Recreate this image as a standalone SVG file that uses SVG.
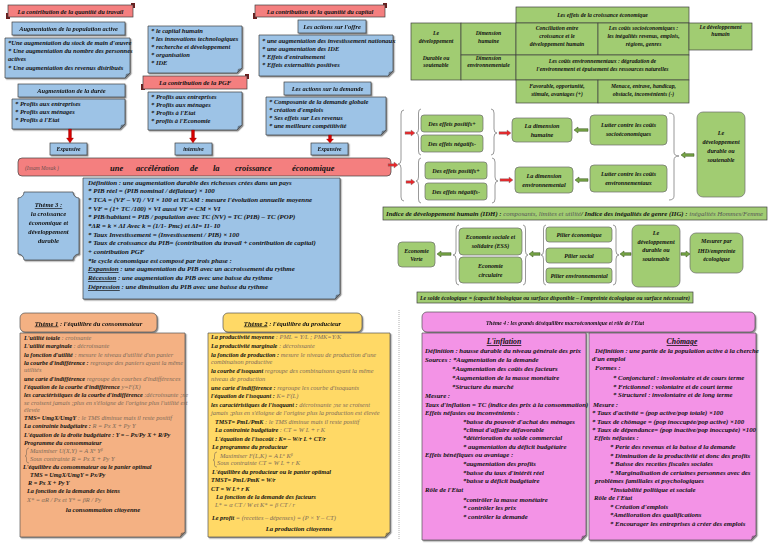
<svg xmlns="http://www.w3.org/2000/svg" width="768" height="543" viewBox="0 0 768 543">
<defs>
<filter id="sh" x="-10%" y="-10%" width="130%" height="140%"><feDropShadow dx="1.2" dy="1.2" stdDeviation="0.5" flood-color="#333" flood-opacity="0.55"/></filter>
</defs>
<style>
text{font-family:"Liberation Serif","DejaVu Serif",serif;font-style:italic;font-weight:bold;fill:#111;}
.c{text-anchor:middle}
.r{font-weight:normal;fill:#7d6a58}
#theme1 .r,#theme2 .r{font-size:6.4px}
.u{text-decoration:underline}
.blue{fill:#9dc3e6;stroke:#404040;stroke-width:0.7}
.red{fill:#f47f7f;stroke:#404040;stroke-width:0.7}
.grn{fill:#a1cc72;stroke:#404040;stroke-width:0.7}
.gb{fill:#a1cc72;stroke:#6a6a6a;stroke-width:0.7}
.org{fill:#f4b183;stroke:#555;stroke-width:0.7}
.yel{fill:#ffd966;stroke:#555;stroke-width:0.7}
.pnk{fill:#f393e6;stroke:#555;stroke-width:0.7}
.fold{fill:#333;opacity:0.5}
.ra{fill:#d40000;stroke:#7a0000;stroke-width:0.3}
.rr{fill:#e8262a;stroke:#7a7a7a;stroke-width:0.4}
.ga{fill:#76a445;stroke:#34501a;stroke-width:0.5}
.br{fill:none;stroke:#7f7f7f;stroke-width:0.8}
.curl{fill:#6a1f1f}
</style>

<!-- ===== Top left: quantité du travail ===== -->
<g id="banner-travail">
<rect class="curl" x="6" y="13" width="4" height="6"/><rect class="curl" x="131" y="3" width="4" height="5"/>
<rect class="red" x="8" y="5" width="125" height="12"/>
<text x="70.5" y="13.8" class="c" font-size="6.4">La contribution de la quantité du travail</text>
</g>
<g id="pop-active" filter="url(#sh)">
<rect class="blue" x="12" y="22" width="113" height="13"/>
<text x="68.5" y="31" class="c" font-size="6.4">Augmentation de la population active</text>
</g>
<g id="box-travail1">
<path class="blue" filter="url(#sh)" d="M5 38h125v35l-5 5h-120z"/><path class="fold" d="M125 78l1-4 4-1z"/>
<text font-size="6.5"><tspan x="8" y="45">*Une augmentation du stock de main d'œuvre</tspan><tspan x="8" y="53">* Une augmentation du nombre des personnes</tspan><tspan x="8" y="61">actives</tspan><tspan x="8" y="70">* Une augmentation des revenus distribués</tspan></text>
</g>
<g id="duree" filter="url(#sh)">
<rect class="blue" x="18" y="84" width="107" height="13"/>
<text x="71.5" y="93" class="c" font-size="6.4">Augmentation de la durée</text>
</g>
<g id="box-travail2">
<path class="blue" filter="url(#sh)" d="M12 99h113v25l-5 5h-108z"/><path class="fold" d="M120 129l1-4 4-1z"/>
<text font-size="6.5"><tspan x="15" y="106">* Profits aux entreprises</tspan><tspan x="15" y="114">* Profits aux ménages</tspan><tspan x="15" y="122">* Profits à l'Etat</tspan></text>
</g>
<g id="expansive1" filter="url(#sh)">
<rect class="blue" x="50" y="143" width="37" height="12"/>
<text x="68.5" y="151.3" class="c" font-size="5.6">Expansive</text>
</g>

<!-- ===== Top middle: PGF ===== -->
<g id="box-pgf1">
<path class="blue" filter="url(#sh)" d="M148 26h94v42l-5 5h-89z"/><path class="fold" d="M237 73l1-4 4-1z"/>
<text font-size="6.5"><tspan x="151" y="33">* le capital humain</tspan><tspan x="151" y="41">* les innovations technologiques</tspan><tspan x="151" y="49">* recherche et développement</tspan><tspan x="151" y="57">* organisation</tspan><tspan x="151" y="65">* IDE</tspan></text>
</g>
<g id="banner-pgf">
<rect class="curl" x="141" y="84" width="4" height="6"/><rect class="curl" x="245" y="74" width="4" height="5"/>
<rect class="red" x="143" y="76" width="104" height="13"/>
<text x="195" y="85.3" class="c" font-size="6.6">La contribution de la PGF</text>
</g>
<g id="box-pgf2">
<path class="blue" filter="url(#sh)" d="M148 92h94v33l-5 5h-89z"/><path class="fold" d="M237 130l1-4 4-1z"/>
<text font-size="6.5"><tspan x="151" y="99">* Profits aux entreprises</tspan><tspan x="151" y="107">* Profits aux ménages</tspan><tspan x="151" y="115">* Profits à l'Etat</tspan><tspan x="151" y="123">* profits à l'Economie</tspan></text>
</g>
<g id="intensive" filter="url(#sh)">
<rect class="blue" x="175" y="143" width="37" height="12"/>
<text x="193.5" y="151.3" class="c" font-size="5.6">intensive</text>
</g>

<!-- ===== Top right: quantité du capital ===== -->
<g id="banner-capital">
<rect class="curl" x="253" y="13" width="4" height="6"/><rect class="curl" x="383" y="3" width="4" height="5"/>
<rect class="red" x="255" y="5" width="130" height="12"/>
<text x="320" y="13.8" class="c" font-size="6.4">La contribution de la quantité du capital</text>
</g>
<g id="offre" filter="url(#sh)">
<rect class="blue" x="298" y="20" width="68" height="13"/>
<text x="332" y="29" class="c" font-size="6.4">Les actions sur l'offre</text>
</g>
<g id="box-capital1">
<path class="blue" filter="url(#sh)" d="M259 35h134v36l-5 5h-129z"/><path class="fold" d="M388 76l1-4 4-1z"/>
<text font-size="6.5"><tspan x="262" y="43">* une augmentation des investissement nationaux</tspan><tspan x="262" y="51">* une augmentation des IDE</tspan><tspan x="262" y="59">* Effets d'entraînement</tspan><tspan x="262" y="67">* Effets externalités positives</tspan></text>
</g>
<g id="demande" filter="url(#sh)">
<rect class="blue" x="284" y="82" width="87" height="13"/>
<text x="327.5" y="91" class="c" font-size="6.4">Les actions sur la demande</text>
</g>
<g id="box-capital2">
<path class="blue" filter="url(#sh)" d="M266 97h120v33l-5 5h-115z"/><path class="fold" d="M381 135l1-4 4-1z"/>
<text font-size="6.5"><tspan x="269" y="104">* Composante de la demande globale</tspan><tspan x="269" y="112">* création d'emplois</tspan><tspan x="269" y="120">* Ses effets sur Les revenus</tspan><tspan x="269" y="128">* une meilleure compétitivité</tspan></text>
</g>
<g id="expansive2" filter="url(#sh)">
<rect class="blue" x="311" y="143" width="37" height="12"/>
<text x="329.5" y="151.3" class="c" font-size="5.6">Expansive</text>
</g>

<!-- ===== Big banner ===== -->
<g id="banner-acceleration">
<rect class="red" x="18" y="158" width="373" height="18" rx="4"/>
<text x="25" y="170" font-size="5.5" class="r" style="fill:#6d5050">(Issam Mosak )</text>
<text y="170.5" font-size="8.5"><tspan x="110">une</tspan><tspan x="136">accélération</tspan><tspan x="190">de</tspan><tspan x="213">la</tspan><tspan x="235">croissance</tspan><tspan x="292">économique</tspan></text>
</g>

<!-- ===== Theme 3 ===== -->
<g id="theme3" filter="url(#sh)">
<path class="blue" d="M24 192H73A6 6 0 0 0 79 198V254A6 6 0 0 0 73 260H24A6 6 0 0 0 18 254V198A6 6 0 0 0 24 192Z"/>
<text class="c" font-size="6.6"><tspan x="48.5" y="207" class="u">Thème 3 :</tspan><tspan x="48.5" y="216">la croissance</tspan><tspan x="48.5" y="225">économique et</tspan><tspan x="48.5" y="234">développement</tspan><tspan x="48.5" y="243">durable</tspan></text>
</g>
<g id="definition">
<path class="blue" filter="url(#sh)" d="M83 178h257v116l-5 5h-252z"/><path class="fold" d="M335 299l1-4 4-1z"/>
<text font-size="6.9">
<tspan x="88" y="184.5">Définition : une augmentation durable des richesses crées dans un pays</tspan>
<tspan x="88" y="193">* PIB réel = (PIB nominal / déflateur) × 100</tspan>
<tspan x="88" y="202">* TCA = (VF – VI) / VI × 100 et TCAM : mesure l'évolution annuelle moyenne</tspan>
<tspan x="88" y="210.5">* VF = (1+ TC /100) × VI        aussi VF = CM × VI</tspan>
<tspan x="88" y="219">* PIB/habitant = PIB / population avec TC (NV) = TC (PIB) – TC (POP)</tspan>
<tspan x="88" y="228">*ΔR = k × ΔI    Avec k = (1/1- Pmc) et    ΔI= I1- I0</tspan>
<tspan x="88" y="236.5">* Taux Investissement = (Investissement / PIB) × 100</tspan>
<tspan x="88" y="245">* Taux de croissance du PIB= (contribution du travail + contribution de capital)</tspan>
<tspan x="88" y="254">+ contribution PGF</tspan>
<tspan x="88" y="262.5">*le cycle économique est composé par trois phase :</tspan>
<tspan x="88" y="271"><tspan class="u">Expansion</tspan> : une augmentation du PIB avec un accroissement du rythme</tspan>
<tspan x="88" y="280"><tspan class="u">Récession</tspan> : une augmentation du PIB avec une baisse du rythme</tspan>
<tspan x="88" y="289"><tspan class="u">Dépression</tspan> : une diminution du PIB avec une baisse du rythme</tspan>
</text>
</g>

<!-- ===== Top right table ===== -->
<g id="table-effets" font-size="5.7">
<rect class="grn" x="516" y="7" width="173" height="16"/>
<rect class="grn" x="411" y="23" width="50" height="57"/>
<rect class="grn" x="461" y="23" width="55" height="32"/>
<rect class="grn" x="461" y="55" width="55" height="25"/>
<rect class="grn" x="516" y="23" width="82" height="32"/>
<rect class="grn" x="598" y="23" width="91" height="32"/>
<rect class="grn" x="689" y="23" width="63" height="27"/>
<rect class="grn" x="516" y="55" width="173" height="25"/>
<rect class="grn" x="516" y="80" width="82" height="23"/>
<rect class="grn" x="598" y="80" width="91" height="23"/>
<text class="c"><tspan x="602.5" y="17">Les effets de la croissance économique</tspan></text>
<text class="c"><tspan x="436" y="35">Le</tspan><tspan x="436" y="43">développement</tspan><tspan x="436" y="60">Durable ou</tspan><tspan x="436" y="67">soutenable</tspan></text>
<text class="c"><tspan x="488.5" y="35">Dimension</tspan><tspan x="488.5" y="43">humaine</tspan></text>
<text class="c"><tspan x="488.5" y="60">Dimension</tspan><tspan x="488.5" y="67">environnementale</tspan></text>
<text class="c"><tspan x="557" y="30">Conciliation entre</tspan><tspan x="557" y="38">croissance et le</tspan><tspan x="557" y="46">développement humain</tspan></text>
<text class="c"><tspan x="643.5" y="30">Les coûts socioéconomiques :</tspan><tspan x="643.5" y="38">les inégalités revenus, emplois,</tspan><tspan x="643.5" y="46">régions, genres</tspan></text>
<text class="c"><tspan x="720.5" y="29">Le développement</tspan><tspan x="720.5" y="36">humain</tspan></text>
<text class="c"><tspan x="602.5" y="63">Les coûts environnementaux : dégradation de</tspan><tspan x="602.5" y="71">l'environnement et épuisement des ressources naturelles</tspan></text>
<text class="c"><tspan x="557" y="88">Favorable, opportunité,</tspan><tspan x="557" y="96">stimule, avantages (+)</tspan></text>
<text class="c"><tspan x="643.5" y="88">Menace, entrave, handicap,</tspan><tspan x="643.5" y="96">obstacle, inconvénients (-)</tspan></text>
</g>

<!-- ===== Right middle flow ===== -->
<g id="effets-pos1"><rect class="gb" x="421" y="115" width="62" height="17" rx="3"/><text x="452" y="125.8" class="c" font-size="6.1">Des effets positifs+</text></g>
<g id="effets-neg1"><rect class="gb" x="421" y="135" width="62" height="17" rx="3"/><text x="452" y="145.8" class="c" font-size="6.1">Des effets négatifs-</text></g>
<g id="dim-humaine"><rect class="gb" x="512" y="118" width="60" height="24" rx="4"/><text class="c" font-size="6.2"><tspan x="542" y="128">La dimension</tspan><tspan x="542" y="136.5">humaine</tspan></text></g>
<g id="lutter-socio"><rect class="gb" x="590" y="115" width="77" height="30" rx="4"/><text class="c" font-size="6"><tspan x="628.5" y="127">Lutter contre les coûts</tspan><tspan x="628.5" y="136">socioéconomiques</tspan></text></g>
<g id="effets-pos2"><rect class="gb" x="425" y="162" width="62" height="17" rx="3"/><text x="456" y="172.8" class="c" font-size="6.1">Des effets positifs+</text></g>
<g id="effets-neg2"><rect class="gb" x="425" y="183" width="62" height="17" rx="3"/><text x="456" y="193.8" class="c" font-size="6.1">Des effets négatifs-</text></g>
<g id="dim-env"><rect class="gb" x="515" y="167" width="58" height="26" rx="4"/><text class="c" font-size="6.2"><tspan x="544" y="177.5">La dimension</tspan><tspan x="544" y="186.5">environnemental</tspan></text></g>
<g id="lutter-env"><rect class="gb" x="590" y="165" width="77" height="27" rx="4"/><text class="c" font-size="6"><tspan x="628.5" y="176">Lutter contre les coûts</tspan><tspan x="628.5" y="185">environnementaux</tspan></text></g>
<g id="dev-durable1"><rect class="gb" x="697" y="112" width="48" height="85" rx="6"/><text class="c" font-size="6.1"><tspan x="721" y="135">Le</tspan><tspan x="721" y="144">développement</tspan><tspan x="721" y="153">durable ou</tspan><tspan x="721" y="162">soutenable</tspan></text></g>
<g id="strip-idh">
<rect class="grn" x="383" y="207" width="384" height="13"/>
<text x="386" y="216.3" font-size="6.6" textLength="377" lengthAdjust="spacingAndGlyphs">Indice de développement humain (IDH) :<tspan class="r" style="fill:#555"> composants, limites et utilité</tspan>/ Indice des inégalités de genre (IIG) :<tspan class="r" style="fill:#555"> inégalités Hommes/Femme</tspan></text>
</g>

<!-- ===== Right lower flow ===== -->
<g id="eco-verte"><rect class="gb" x="398" y="242" width="37" height="25" rx="4"/><text class="c" font-size="5.9"><tspan x="416.5" y="252.5">Economie</tspan><tspan x="416.5" y="261">Verte</tspan></text></g>
<g id="ess"><rect class="gb" x="459" y="228" width="63" height="27" rx="4"/><text class="c" font-size="6"><tspan x="490.5" y="239">Economie sociale et</tspan><tspan x="490.5" y="248">solidaire (ESS)</tspan></text></g>
<g id="eco-circulaire"><rect class="gb" x="459" y="257" width="63" height="26" rx="4"/><text class="c" font-size="6"><tspan x="490.5" y="268">Economie</tspan><tspan x="490.5" y="276.5">circulaire</tspan></text></g>
<g id="pilier-eco"><rect class="gb" x="546" y="227" width="66" height="15" rx="3"/><text x="579" y="236.8" class="c" font-size="6">Pilier économique</text></g>
<g id="pilier-social"><rect class="gb" x="546" y="248" width="66" height="15" rx="3"/><text x="579" y="257.8" class="c" font-size="6">Pilier social</text></g>
<g id="pilier-env"><rect class="gb" x="546" y="268" width="66" height="15" rx="3"/><text x="579" y="277.8" class="c" font-size="6">Pilier environnemental</text></g>
<g id="dev-durable2"><rect class="gb" x="632" y="225" width="48" height="62" rx="6"/><text class="c" font-size="6.1"><tspan x="656" y="235">Le</tspan><tspan x="656" y="243.5">développement</tspan><tspan x="656" y="252">durable ou</tspan><tspan x="656" y="260.5">soutenable</tspan></text></g>
<g id="mesurer"><rect class="gb" x="690" y="233" width="53" height="40" rx="6"/><text class="c" font-size="6"><tspan x="716.5" y="243">Mesurer par</tspan><tspan x="716.5" y="252.5">IHD/empreinte</tspan><tspan x="716.5" y="261">écologique</tspan></text></g>
<g id="strip-solde">
<rect class="grn" x="417" y="292" width="276" height="11"/>
<text x="420" y="299.8" font-size="5.9" textLength="270" lengthAdjust="spacingAndGlyphs">Le solde écologique = (capacité biologique ou surface disponible – l'empreinte écologique ou surface nécessaire)</text>
</g>

<!-- ===== Connectors ===== -->
<g id="connectors">
<polygon class="ra" points="68.5,129 71.5,129 71.5,138 73.5,138 70,143 66.5,138 68.5,138"/>
<polygon class="ra" points="191.5,130 194.5,130 194.5,138 196.5,138 193,143 189.5,138 191.5,138"/>
<polygon class="ra" points="328.5,135 331.5,135 331.5,139 333.5,139 330,143 326.5,139 328.5,139"/>
<polygon class="rr" points="388,163.7 394,163.7 394,162 398,165 394,168 394,166.3 388,166.3"/>
<polygon class="rr" points="405,131.7 411,131.7 411,130 415,133 411,136 411,134.3 405,134.3"/>
<polygon class="rr" points="406,180.7 411,180.7 411,179 415,182 411,185 411,183.3 406,183.3"/>
<polygon class="rr" points="499,131.7 507,131.7 507,130 511,133 507,136 507,134.3 499,134.3"/>
<polygon class="rr" points="500,178.7 509,178.7 509,177 513,180 509,183 509,181.3 500,181.3"/>
<polygon class="ga" points="588,128.7 578,128.7 578,127 574,130 578,133 578,131.3 588,131.3"/>
<polygon class="ga" points="588,178.7 579,178.7 579,177 575,180 579,183 579,181.3 588,181.3"/>
<polygon class="ga" points="694,153.7 685,153.7 685,152 681,155 685,158 685,156.3 694,156.3"/>
<polygon class="ga" points="451,252.7 441,252.7 441,251 437,254 441,257 441,255.3 451,255.3"/>
<polygon class="ga" points="540,252.7 533,252.7 533,251 529,254 533,257 533,255.3 540,255.3"/>
<polygon class="ga" points="631,252.7 624,252.7 624,251 620,254 624,257 624,255.3 631,255.3"/>
<polygon class="ga" points="681,252.7 686,252.7 686,251 690,254 686,257 686,255.3 681,255.3"/>
<path class="br" d="M404 110 Q401 110 401 114 V160 Q401 164 398 164 Q401 164 401 168 V197 Q401 201 404 201"/>
<path class="br" d="M421 109 Q418.5 109 418.5 113 V129 Q418.5 133 416 133 Q418.5 133 418.5 137 V151 Q418.5 155 421 155"/>
<path class="br" d="M491 109 Q494 109 494 113 V129 Q494 133 497 133 Q494 133 494 137 V151 Q494 155 491 155"/>
<path class="br" d="M421 158 Q418.5 158 418.5 162 V177 Q418.5 181 416 181 Q418.5 181 418.5 185 V199 Q418.5 203 421 203"/>
<path class="br" d="M492 158 Q495 158 495 162 V177 Q495 181 498 181 Q495 181 495 185 V199 Q495 203 492 203"/>
<path class="br" d="M669 113 Q674 113 674 117 V152 Q674 156 679 156 Q674 156 674 160 V196 Q674 200 669 200"/>
<path class="br" d="M459 225 Q456 225 456 229 V251 Q456 255 453 255 Q456 255 456 259 V281 Q456 285 459 285"/>
<path class="br" d="M523 225 Q525.5 225 525.5 229 V251 Q525.5 255 528 255 Q525.5 255 525.5 259 V281 Q525.5 285 523 285"/>
<path class="br" d="M546 225 Q543.5 225 543.5 229 V251 Q543.5 255 541 255 Q543.5 255 543.5 259 V281 Q543.5 285 546 285"/>
<path class="br" d="M613 225 Q616 225 616 229 V251 Q616 255 619 255 Q616 255 616 259 V281 Q616 285 613 285"/>
</g>

<!-- ===== Theme 1 ===== -->
<g id="theme1-tab" filter="url(#sh)">
<rect class="org" x="20" y="313" width="137" height="19" rx="5"/>
<text x="88.5" y="325.5" class="c" font-size="6.6"><tspan class="u">Thème 1</tspan> : l'équilibre du consommateur</text>
</g>
<g id="theme1">
<path class="org" filter="url(#sh)" d="M20 333h165v199l-5 5h-160z"/><path class="fold" d="M180 537l1-4 4-1z"/>
<text font-size="6.2">
<tspan x="24" y="340">L'utilité totale<tspan class="r"> : croissante</tspan></tspan>
<tspan x="24" y="348">L'utilité marginale<tspan class="r"> : décroissante</tspan></tspan>
<tspan x="24" y="357">la fonction d'utilité<tspan class="r"> : mesure le niveau d'utilité d'un panier</tspan></tspan>
<tspan x="24" y="365">la courbe d'indifférence :<tspan class="r"> regroupe des paniers ayant la même</tspan></tspan>
<tspan x="24" y="372" class="r">utilités</tspan>
<tspan x="24" y="381">une carte d'indifférence<tspan class="r"> regroupe des courbes d'indifférences</tspan></tspan>
<tspan x="24" y="389">l'équation de la courbe d'indifférence<tspan class="r"> y=F(X)</tspan></tspan>
<tspan x="24" y="397">les caractéristiques de la courbe d'indifférence<tspan class="r"> :décroissante ;ne</tspan></tspan>
<tspan x="24" y="405" class="r">se croisent jamais ;plus en s'éloigne de l'origine plus l'utilité est</tspan>
<tspan x="24" y="412" class="r">élevée</tspan>
<tspan x="24" y="420">TMS= UmgX/UmgY<tspan class="r"> : le TMS diminue mais il reste positif</tspan></tspan>
<tspan x="24" y="428">La contrainte budgétaire :<tspan class="r"> R = Px X + Py Y</tspan></tspan>
<tspan x="24" y="437">L'équation de la droite budgétaire : Y = – Px/Py X + R/Py</tspan>
<tspan x="24" y="445">Programme du consommateur</tspan>
<tspan x="30" y="453" class="r">Maximiser U(X,Y) =   A    X<tspan font-size="4" dy="-2">α</tspan><tspan dy="2"> Y</tspan><tspan font-size="4" dy="-2">β</tspan></tspan>
<tspan x="30" y="461" class="r">Sous contrainte R = Px X + Py Y</tspan>
<tspan x="23" y="469">L'équilibre du consommateur ou le panier optimal</tspan>
<tspan x="30" y="477">TMS =    UmgX/UmgY  =   Px/Py</tspan>
<tspan x="28" y="485">R = Px X + Py Y</tspan>
<tspan x="27" y="493">La fonction de la demande  des biens</tspan>
<tspan x="27" y="502" class="r">X*   =   αR / Px     et Y*  =   βR / Py</tspan>
</text>
<path class="br" d="M29 448 Q26.5 448 26.5 451 V454 Q26.5 456 25 456 Q26.5 456 26.5 458 V461 Q26.5 463 29 463" style="stroke:#7d6a58;stroke-width:0.6"/>
<text x="103" y="512" class="c" font-size="6.6">la consommation citoyenne</text>
</g>

<!-- ===== Theme 2 ===== -->
<g id="theme2-tab" filter="url(#sh)">
<rect class="yel" x="223" y="313" width="139" height="19" rx="5"/>
<text x="292.5" y="325.5" class="c" font-size="6.6"><tspan class="u">Thème 2</tspan> : l'équilibre du producteur</text>
</g>
<g id="theme2">
<path class="yel" filter="url(#sh)" d="M208 333h182v199l-5 5h-177z"/><path class="fold" d="M385 537l1-4 4-1z"/>
<text font-size="6.2">
<tspan x="211" y="339">La productivité moyenne<tspan class="r"> : PML = Y/L ; PMK=Y/K</tspan></tspan>
<tspan x="211" y="348">La productivité marginale<tspan class="r"> : décroissante</tspan></tspan>
<tspan x="211" y="357">la fonction de production :<tspan class="r"> mesure le niveau de production d'une</tspan></tspan>
<tspan x="211" y="364" class="r">combinaison productive</tspan>
<tspan x="211" y="373">la courbe d'isoquant<tspan class="r"> regroupe des combinaisons ayant la même</tspan></tspan>
<tspan x="211" y="381" class="r">niveau de production</tspan>
<tspan x="211" y="390">une carte d'indifférence :<tspan class="r"> regroupe les courbe d'isoquants</tspan></tspan>
<tspan x="211" y="398">l'équation de l'isoquant :<tspan class="r"> K= F(L)</tspan></tspan>
<tspan x="211" y="407">les caractéristiques de l'isoquant :<tspan class="r"> décroissante ;ne se croisent</tspan></tspan>
<tspan x="211" y="415" class="r">jamais ;plus en s'éloigne de l'origine plus la production est élevée</tspan>
<tspan x="215" y="424">TMST= PmL/PmK<tspan class="r"> : le TMS diminue mais il reste positif</tspan></tspan>
<tspan x="215" y="432">La contrainte budgétaire<tspan class="r"> : CT = W L + r K</tspan></tspan>
<tspan x="215" y="441">L'équation de l'isocoût : K= – W/r L + CT/r</tspan>
<tspan x="212" y="449">Le programme du producteur</tspan>
<tspan x="220" y="458" class="r">Maximiser F(L,K) =   A    L<tspan font-size="4" dy="-2">α</tspan><tspan dy="2"> K</tspan><tspan font-size="4" dy="-2">β</tspan></tspan>
<tspan x="217" y="465" class="r">Sous contrainte CT = W L + r K</tspan>
<tspan x="212" y="474">L'équilibre du producteur ou le panier optimal</tspan>
<tspan x="211" y="482">TMST= PmL/PmK =    W/r</tspan>
<tspan x="211" y="491">CT = W L+ r K</tspan>
<tspan x="216" y="499">La fonction de la demande  des facteurs</tspan>
<tspan x="215" y="507" class="r">L*   =   α CT / W    et K*  =   β CT / r</tspan>
<tspan x="212" y="520">Le profit<tspan class="r"> = (recettes – dépenses) = (P × Y – CT)</tspan></tspan>
</text>
<path class="br" d="M217 452 Q214.5 452 214.5 455 V458 Q214.5 460 213 460 Q214.5 460 214.5 462 V465 Q214.5 467 217 467" style="stroke:#7d6a58;stroke-width:0.6"/>
<text x="299" y="531" class="c" font-size="6.6">La production citoyenne</text>
</g>
<line id="separator" x1="399" y1="310" x2="399" y2="540" stroke="#9a9a9a" stroke-width="0.8" stroke-dasharray="1,1"/>

<!-- ===== Theme 4 ===== -->
<g id="theme4-tab" filter="url(#sh)">
<rect class="pnk" x="422" y="312" width="333" height="20" rx="5"/>
<text x="565" y="325" class="c" font-size="5.6">Thème 4 : les grands déséquilibre macroéconomique et rôle de l'Etat</text>
</g>
<g id="inflation">
<path class="pnk" filter="url(#sh)" d="M422 333h164v202l-5 5h-159z"/><path class="fold" d="M581 540l1-4 4-1z"/>
<text x="504" y="344" class="c u" font-size="7.8">L'inflation</text>
<text font-size="6.8">
<tspan x="425" y="352.5">Définition :  hausse durable du niveau générale des prix</tspan>
<tspan x="425" y="362">Sources :  *Augmentation de la demande</tspan>
<tspan x="452" y="371">*Augmentation des coûts des facteurs</tspan>
<tspan x="452" y="380">*Augmentation de la masse monétaire</tspan>
<tspan x="452" y="388.5">*Structure du marché</tspan>
<tspan x="425" y="398">Mesure :</tspan>
<tspan x="425" y="407">Taux d'inflation = TC (indice des prix à la consommation)</tspan>
<tspan x="425" y="415">Effets néfastes ou inconvénients :</tspan>
<tspan x="463" y="423.5">*baisse du pouvoir d'achat des ménages</tspan>
<tspan x="463" y="432">*climat d'affaire défavorable</tspan>
<tspan x="463" y="440">*détérioration du solde commercial</tspan>
<tspan x="463" y="448.5">* augmentation du déficit budgétaire</tspan>
<tspan x="425" y="457">Effets bénéfiques ou avantage :</tspan>
<tspan x="463" y="466">*augmentation des profits</tspan>
<tspan x="463" y="474.5">*baisse du taux d'intérêt réel</tspan>
<tspan x="463" y="483">*baisse u déficit budgétaire</tspan>
<tspan x="425" y="492">Rôle de l'Etat</tspan>
<tspan x="463" y="502">*contrôler la masse monétaire</tspan>
<tspan x="463" y="510">* contrôler les prix</tspan>
<tspan x="463" y="518.5">* contrôler la demande</tspan>
</text>
</g>
<g id="chomage">
<path class="pnk" filter="url(#sh)" d="M589 333h167v202l-5 5h-162z"/><path class="fold" d="M751 540l1-4 4-1z"/>
<text x="682" y="344" class="c u" font-size="7.8">Chômage</text>
<text font-size="6.8">
<tspan x="595" y="352.5">Définition : une partie de la population active à la cherche</tspan>
<tspan x="592" y="361">d'un emploi</tspan>
<tspan x="595" y="370">Formes :</tspan>
<tspan x="613" y="380">* Conjoncturel : involontaire et de cours terme</tspan>
<tspan x="613" y="388.5">* Frictionnel : volontaire et de court terme</tspan>
<tspan x="613" y="397">* Structurel : involontaire et de long terme</tspan>
<tspan x="593" y="407">Mesure :</tspan>
<tspan x="592" y="415">* Taux d'activité = (pop active/pop totale) ×100</tspan>
<tspan x="592" y="423.5">* Taux de chômage = (pop inoccupée/pop active) ×100</tspan>
<tspan x="592" y="432">* Taux de dépendance= (pop inactive/pop inoccupée) ×100</tspan>
<tspan x="594" y="440">Effets néfastes :</tspan>
<tspan x="610" y="449">* Perte des revenus et la baisse d la demande</tspan>
<tspan x="610" y="458">* Diminution de la productivité et donc des profits</tspan>
<tspan x="610" y="466">* Baisse des recettes fiscales sociales</tspan>
<tspan x="610" y="475">* Marginalisation de certaines personnes avec des</tspan>
<tspan x="595" y="483">problèmes familiales et psychologiques</tspan>
<tspan x="610" y="491.5">*Instabilité politique et sociale</tspan>
<tspan x="594" y="500">Rôle de l'Etat</tspan>
<tspan x="610" y="508.5">* Création d'emplois</tspan>
<tspan x="610" y="517">*Amélioration des qualifications</tspan>
<tspan x="610" y="525.5">* Encourager les entreprises à créer des emplois</tspan>
</text>
</g>
</svg>
